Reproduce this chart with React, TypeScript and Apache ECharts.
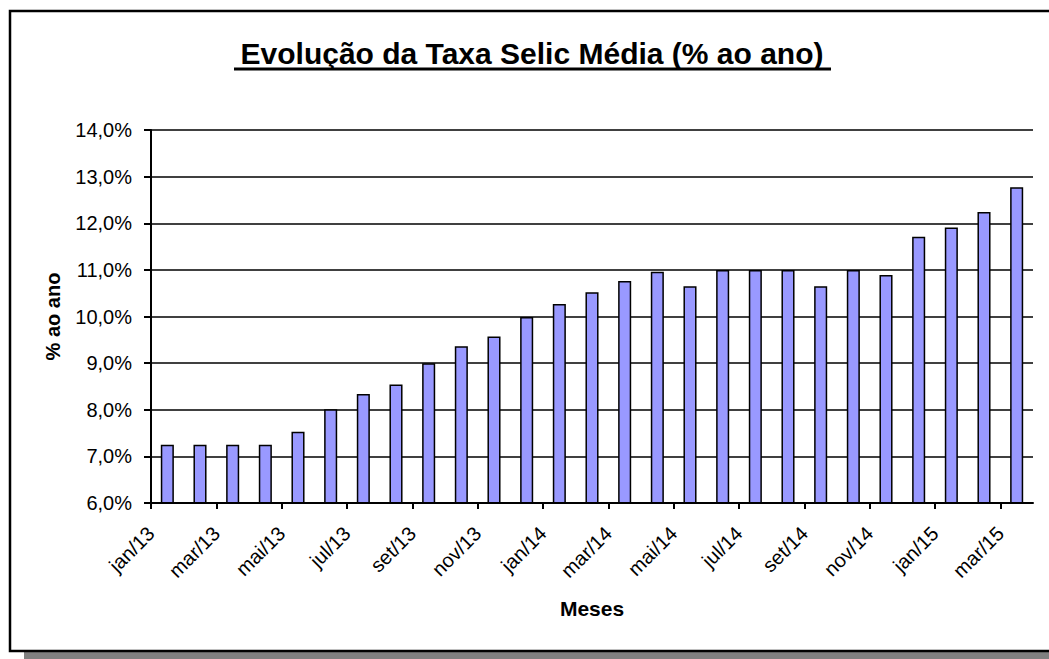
import React, { useEffect, useRef } from "react";
import * as echarts from "echarts";

const monthLabels = [
  "jan/13", "fev/13", "mar/13", "abr/13", "mai/13", "jun/13", "jul/13", "ago/13", "set/13", "out/13", "nov/13", "dez/13",
  "jan/14", "fev/14", "mar/14", "abr/14", "mai/14", "jun/14", "jul/14", "ago/14", "set/14", "out/14", "nov/14", "dez/14",
  "jan/15", "fev/15", "mar/15", "abr/15",
];
const categories = monthLabels.slice(0, 27);
const selicValues = [
  7.25, 7.25, 7.25, 7.25, 7.53, 8.01, 8.34, 8.54, 9.0, 9.36, 9.57, 9.99,
  10.27, 10.52, 10.76, 10.96, 10.65, 11.0, 11.0, 11.0, 10.65, 11.0, 10.89, 11.71,
  11.91, 12.24, 12.77,
];
const yMin = 6;
const yMax = 14;
const yStep = 1;

const FONT = "'Liberation Sans', Arial, sans-serif";

export default function App() {
  const ref = useRef<HTMLDivElement>(null);
  useEffect(() => {
    if (!ref.current) return;
    const chart = echarts.init(ref.current, undefined, { renderer: "svg" });
    chart.setOption({
      animation: false,
      backgroundColor: "#ffffff",
      graphic: [
        { type: "rect", z: 0, shape: { x: 24, y: 19, width: 1100, height: 640 }, style: { fill: "#808080" } },
        { type: "rect", z: 0, shape: { x: 10, y: 11, width: 1100, height: 640 }, style: { fill: "#ffffff", stroke: "#000000", lineWidth: 2.5 } },
        {
          type: "text", z: 10, x: 532, y: 53,
          style: { text: "Evolução da Taxa Selic Média (% ao ano)", fill: "#000", font: `bold 30px ${FONT}`, textAlign: "center", textVerticalAlign: "middle" },
        },
        { type: "line", z: 10, shape: { x1: 234, y1: 69, x2: 831, y2: 69 }, style: { stroke: "#000", lineWidth: 3 } },
      ],
      grid: { left: 151, right: 16, top: 130, bottom: 156, containLabel: false },
      xAxis: [
        {
          type: "category",
          data: categories,
          boundaryGap: true,
          axisLine: { show: true, lineStyle: { color: "#000", width: 2 } },
          axisTick: { show: false },
          axisLabel: { show: false },
          splitLine: { show: false },
          z: 5,
        },
        {
          type: "category",
          data: monthLabels,
          boundaryGap: false,
          position: "bottom",
          axisLine: { show: false },
          axisTick: { show: true, interval: 1, length: 6, lineStyle: { color: "#000", width: 2 } },
          axisLabel: {
            interval: 1, rotate: 45, margin: 27, fontSize: 20, color: "#000", fontFamily: FONT,
          },
          splitLine: { show: false },
          name: "Meses",
          nameLocation: "middle",
          nameGap: 95,
          nameTextStyle: { fontSize: 21, fontWeight: "bold", color: "#000", fontFamily: FONT },
        },
      ],
      yAxis: {
        type: "value",
        min: yMin,
        max: yMax,
        interval: yStep,
        axisLine: { show: true, lineStyle: { color: "#000", width: 2 } },
        axisTick: { show: true, length: 7, lineStyle: { color: "#000", width: 2 } },
        axisLabel: {
          margin: 19, fontSize: 20, color: "#000", fontFamily: FONT,
          formatter: (v: number) => v.toFixed(1).replace(".", ",") + "%",
        },
        splitLine: { show: true, lineStyle: { color: "#000", width: 1.5 } },
        name: "% ao ano",
        nameLocation: "middle",
        nameGap: 88,
        nameRotate: 90,
        nameTextStyle: { fontSize: 20, fontWeight: "bold", color: "#000", fontFamily: FONT },
      },
      series: [
        {
          type: "bar",
          xAxisIndex: 0,
          data: selicValues,
          barWidth: "40%",
          itemStyle: { color: "#9999FF", borderColor: "#000", borderWidth: 1.5 },
          z: 3,
        },
      ],
    });
    return () => chart.dispose();
  }, []);
  return <div ref={ref} style={{ position: "fixed", left: 0, top: 0, width: 1049, height: 659 }} />;
}
